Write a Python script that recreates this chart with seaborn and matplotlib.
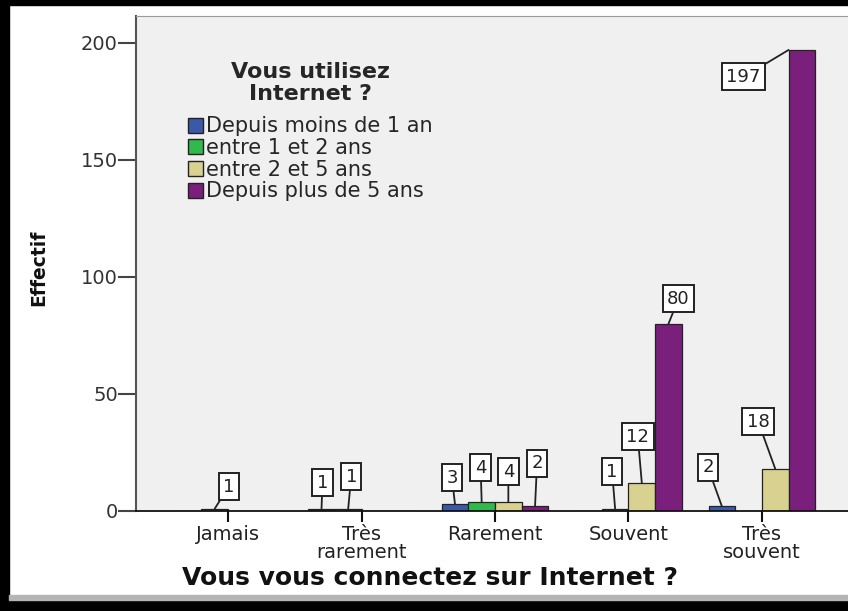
import pandas as pd
import seaborn as sns
import matplotlib.pyplot as plt
from matplotlib import font_manager
from matplotlib.patches import Rectangle

# categories (x) and hue levels
connexion = ['Jamais', 'Très\nrarement', 'Rarement', 'Souvent', 'Très\nsouvent']
usage = ['Depuis moins de 1 an', 'entre 1 et 2 ans', 'entre 2 et 5 ans', 'Depuis plus de 5 ans']

# counts per usage level, in the order of connexion
moins_1an = [0, 1, 3, 0, 2]
entre_1_2 = [1, 1, 4, 1, 0]
entre_2_5 = [0, 0, 4, 12, 18]
plus_5ans = [0, 0, 2, 80, 197]
series = [moins_1an, entre_1_2, entre_2_5, plus_5ans]

colors = ['#3c59a8', '#32b94c', '#d8d18f', '#7b1f7d']

# label box offsets (pixels) from the bar top, same layout as series
offsets = [
    [None, (1, 26), (-3, 26), None, (-14, 39)],
    [(14, 22), (3, 32), (-1, 34), (-3, 37), None],
    [None, None, (0, 30), (-4, 46), (-17, 47)],
    [None, None, (2, 43), (10, 25), (-45, -27)],
]

rows = []
for lvl, vals in zip(usage, series):
    for cat, v in zip(connexion, vals):
        rows.append({'connexion': cat, 'usage': lvl, 'Effectif': v})
df = pd.DataFrame(rows)

sns.set_style('white')
plt.rcParams['font.family'] = ['DejaVu Sans']

# condensed font for the y label if one is installed
installed = {f.name for f in font_manager.fontManager.ttflist}
if 'Liberation Sans Narrow' in installed:
    ylab_font, ylab_size = 'Liberation Sans Narrow', 18
elif 'DejaVu Sans Condensed' in installed:
    ylab_font, ylab_size = 'DejaVu Sans Condensed', 14
else:
    ylab_font, ylab_size = 'DejaVu Sans', 13.5

W, H = 848, 611
fig = plt.figure(figsize=(W / 100, H / 100), dpi=100)
ax = fig.add_axes([136 / W, 1 - 511 / H, (W - 136) / W, 495 / H])

sns.barplot(data=df, x='connexion', y='Effectif', hue='usage', order=connexion,
            hue_order=usage, palette=colors, width=0.8, edgecolor='#222222',
            linewidth=0.9, saturation=1, ax=ax)

ax.set_facecolor('#f0f0f0')
ax.set_xlim(-0.69, 4.645)
ax.set_ylim(0, 211.5)
ax.set_yticks([0, 50, 100, 150, 200])

ax.spines['right'].set_visible(False)
ax.spines['top'].set_color('#9a9a9a')
ax.spines['left'].set_color('#555555')
ax.spines['left'].set_linewidth(1.5)
ax.spines['bottom'].set_color('#111111')
ax.spines['bottom'].set_linewidth(1.3)

ax.tick_params(axis='y', direction='out', length=13, width=1.5, color='#444444',
               labelsize=14, labelcolor='#333333', pad=0, left=True)
ax.tick_params(axis='x', direction='out', length=8, width=1.5, color='#111111',
               labelsize=14, labelcolor='#222222', pad=2, bottom=True)
for t in ax.get_xticklabels():
    t.set_linespacing(0.95)

ax.set_xlabel('Vous vous connectez sur Internet ?', fontsize=18, fontweight='bold',
              color='#111111')
ax.xaxis.set_label_coords((430 - 136) / (W - 136), -0.136)
ax.xaxis.label.set_va('center')
ax.set_ylabel('Effectif', fontsize=ylab_size, fontweight='bold', color='#111111',
              family=ylab_font)
ax.yaxis.set_label_coords((39 - 136) / (W - 136), (511 - 268) / 495)
ax.yaxis.label.set_va('center')

# value labels
for i, cont in enumerate(ax.containers):
    for j, bar in enumerate(cont.patches):
        off = offsets[i][j]
        v = series[i][j]
        if off is None or v == 0:
            continue
        x = bar.get_x() + bar.get_width() / 2
        if off[1] < 0:
            x = bar.get_x()
        y = bar.get_height()
        ax.annotate(str(v), xy=(x, y), xytext=off, textcoords='offset pixels',
                    ha='center', va='center', fontsize=13, color='#222222',
                    bbox=dict(boxstyle='square,pad=0.25', fc='white', ec='#222222', lw=1.4),
                    arrowprops=dict(arrowstyle='-', color='#222222', lw=1.3,
                                    shrinkA=0, shrinkB=0))

handles, labels = ax.get_legend_handles_labels()
leg = ax.legend(handles, labels, title='Vous utilisez\nInternet ?', loc='upper left',
                bbox_to_anchor=((188 - 136) / (W - 136), (511 - 62) / 495),
                frameon=False, fontsize=15, handlelength=0.72, handleheight=0.72,
                handletextpad=0.12, labelspacing=0.08, borderpad=0, borderaxespad=0,
                title_fontproperties={'weight': 'bold', 'size': 16})
leg.get_title().set_linespacing(1.12)
leg.get_title().set_multialignment('center')
leg._legend_box.sep = 9
for h in leg.legend_handles:
    h.set_edgecolor('#222222')
    h.set_linewidth(1.0)

# screenshot frame
fig.add_artist(Rectangle((0, 1 - 5 / H), 1, 5 / H, transform=fig.transFigure,
                         color='black', zorder=10))
fig.add_artist(Rectangle((0, 0), 9 / W, 1, transform=fig.transFigure,
                         color='black', zorder=10))
fig.add_artist(Rectangle((0, 0), 1, 11 / H, transform=fig.transFigure,
                         color='black', zorder=10))
fig.add_artist(Rectangle((9 / W, 11 / H), 1, 5 / H, transform=fig.transFigure,
                         color='#b5b5b5', zorder=10))

fig.savefig('out.png', dpi=100, facecolor='white')
